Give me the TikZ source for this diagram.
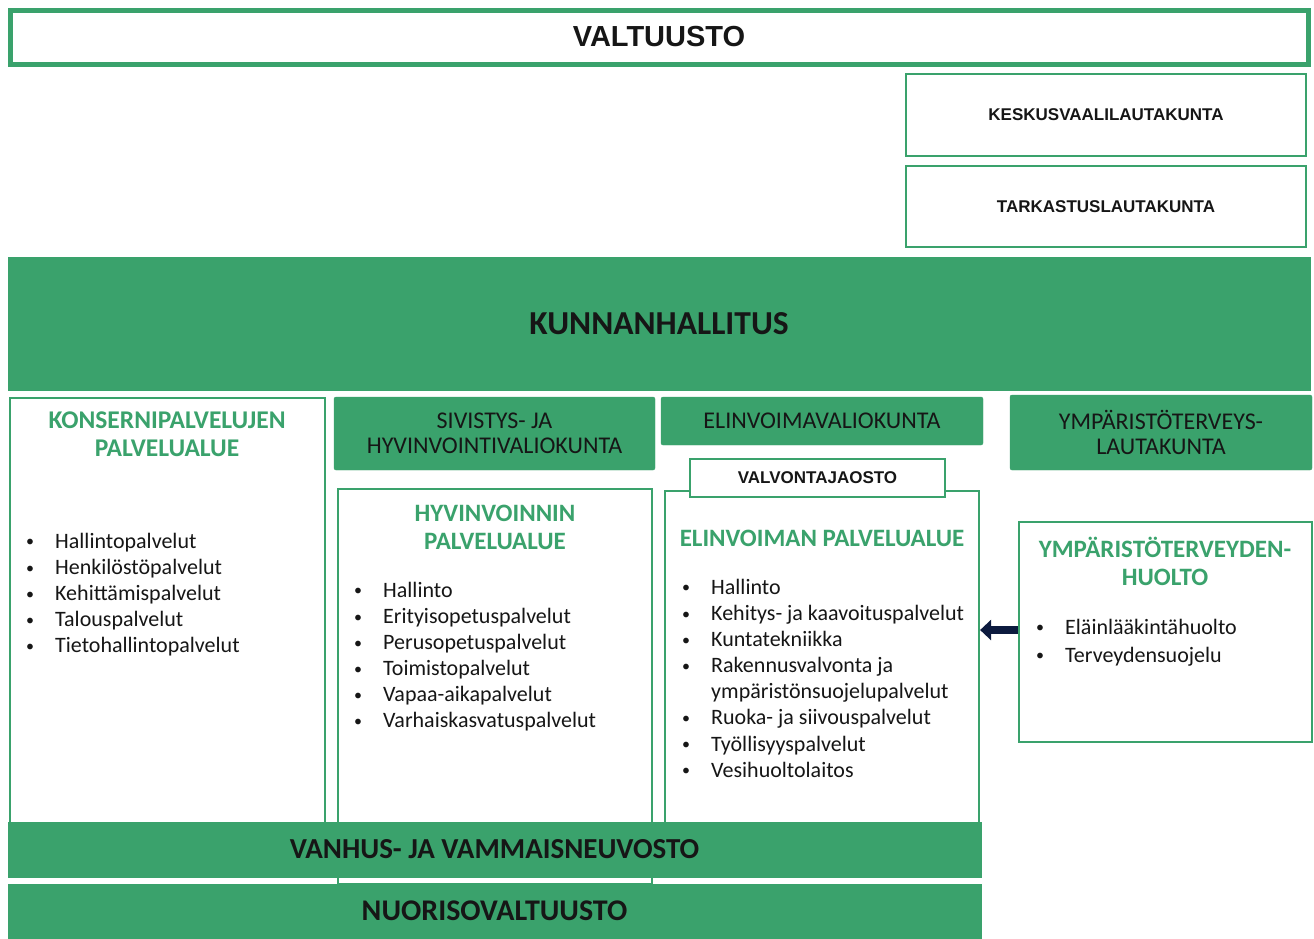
\documentclass[tikz,border=0pt]{standalone}
\usepackage{fontspec}
\usepackage{tikz}
\usetikzlibrary{arrows.meta}
\setmainfont{Carlito}
\newfontfamily\headfont{Liberation Sans}
\definecolor{orggreen}{RGB}{58,162,108}
\definecolor{orgtext}{RGB}{22,22,22}
\definecolor{orgnavy}{RGB}{12,26,62}
\newcommand{\bul}{\makebox[29pt][l]{\raisebox{1.5pt}{\fontsize{16}{16}\selectfont\textbullet}}}
\tikzstyle{box} = [draw=orggreen,line width=2.2pt,fill=white,rectangle,inner sep=0]
\tikzstyle{band} = [fill=orggreen,draw=orggreen,rectangle,inner sep=0,text=orgtext]
\tikzstyle{committee} = [band,rounded corners=2pt,align=center,font=\fontsize{24}{25.5}\selectfont]
\tikzstyle{title} = [text=orggreen,align=center,inner sep=0,font=\fontsize{25}{28}\selectfont\bfseries]
\tikzstyle{list} = [anchor=north west,align=left,inner sep=0,text=orgtext,font=\fontsize{22}{26.1}\selectfont]
\tikzstyle{board} = [box,font=\headfont\fontsize{17}{18}\selectfont\bfseries,text=orgtext]

\begin{document}
\begin{tikzpicture}[x=1pt,y=-1pt]
    \useasboundingbox (0,0) rectangle (1314,938);

    \node[box,line width=5pt,minimum width=1298pt,minimum height=54pt,
        font=\headfont\fontsize{29}{30}\selectfont\bfseries,text=orgtext] (V) at (659,37) {VALTUUSTO};
    \node[board,minimum width=400pt,minimum height=82pt] (KV) at (1106,115) {KESKUSVAALILAUTAKUNTA};
    \node[board,minimum width=400pt,minimum height=81pt] (TL) at (1106,206.5) {TARKASTUSLAUTAKUNTA};

    \node[band,minimum width=1302pt,minimum height=133pt,
        font=\fontsize{33.5}{36}\selectfont\bfseries] (KH) at (659,323.5) {KUNNANHALLITUS};

    \node[box,minimum width=315pt,minimum height=477pt] (KP) at (167.5,636.5) {};
    \node[committee,minimum width=321pt,minimum height=73pt] (SV) at (494.5,433.5) {SIVISTYS- JA\\HYVINVOINTIVALIOKUNTA};
    \node[committee,minimum width=322pt,minimum height=48pt] (EV) at (822,421) {ELINVOIMAVALIOKUNTA};
    \node[committee,minimum width=302pt,minimum height=75pt] (YL) at (1161,432.5) {YMPÄRISTÖTERVEYS-\\LAUTAKUNTA};

    \node[box,minimum width=314pt,minimum height=395pt] (HP) at (495,686.5) {};
    \node[box,minimum width=314pt,minimum height=385pt] (EP) at (822,683.5) {};
    \node[board,minimum width=255pt,minimum height=38pt] (VJ) at (817.5,478) {VALVONTAJAOSTO};
    \node[box,minimum width=293pt,minimum height=220pt] (YH) at (1165.5,632) {};

    \node[title,font=\fontsize{25.5}{28}\selectfont\bfseries] (KPt) at (167,434.5) {KONSERNIPALVELUJEN\\PALVELUALUE};
    \node[title] (HPt) at (495,527.5) {HYVINVOINNIN\\PALVELUALUE};
    \node[title] (EPt) at (822,538) {ELINVOIMAN PALVELUALUE};
    \node[title] (YHt) at (1165,561.5) {YMPÄRISTÖTERVEYDEN-\\HUOLTO};

    \node[list] (KPl) at (26,533) {\bul Hallintopalvelut\\\bul Henkilöstöpalvelut\\\bul Kehittämispalvelut\\
        \bul Talouspalvelut\\\bul Tietohallintopalvelut};
    \node[list] (HPl) at (354,582) {\bul Hallinto\\\bul Erityisopetuspalvelut\\\bul Perusopetuspalvelut\\
        \bul Toimistopalvelut\\\bul Vapaa-aikapalvelut\\\bul Varhaiskasvatuspalvelut};
    \node[list] (EPl) at (682,579) {\bul Hallinto\\\bul Kehitys- ja kaavoituspalvelut\\\bul Kuntatekniikka\\
        \bul Rakennusvalvonta ja\\\hspace*{29pt}ympäristönsuojelupalvelut\\\bul Ruoka- ja siivouspalvelut\\
        \bul Työllisyyspalvelut\\\bul Vesihuoltolaitos};
    \node[list,font=\fontsize{22}{28}\selectfont] (YHl) at (1036,619) {\bul Eläinlääkintähuolto\\\bul Terveydensuojelu};

    \draw[-{Triangle[length=11pt,width=20pt]},line width=8pt,orgnavy] ([yshift=2pt]YH.west) -- ([yshift=2pt]YH.west -| EP.east);

    \node[band,minimum width=973pt,minimum height=55pt,
        font=\fontsize{29}{30}\selectfont\bfseries] (VN) at (494.5,849.5) {VANHUS- JA VAMMAISNEUVOSTO};
    \node[band,minimum width=973pt,minimum height=54pt,
        font=\fontsize{30}{30}\selectfont\bfseries] (NV) at (494.5,911) {NUORISOVALTUUSTO};

\end{tikzpicture}
\end{document}
